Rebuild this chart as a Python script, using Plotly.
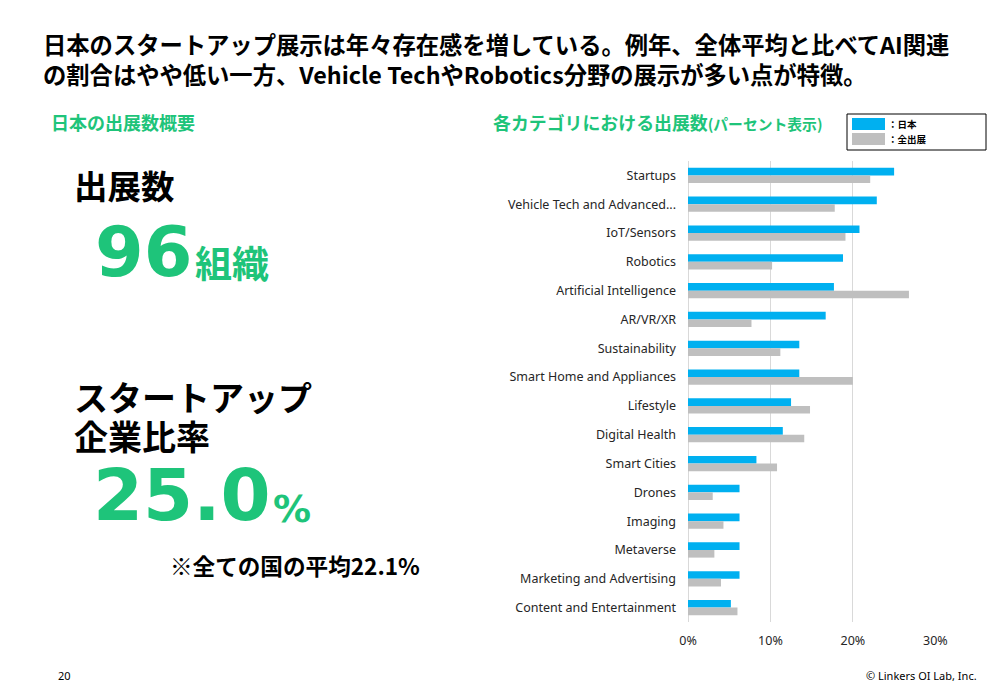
import plotly.graph_objects as go

categories = [
    "Startups", "Vehicle Tech and Advanced...", "IoT/Sensors", "Robotics",
    "Artificial Intelligence", "AR/VR/XR", "Sustainability",
    "Smart Home and Appliances", "Lifestyle", "Digital Health",
    "Smart Cities", "Drones", "Imaging", "Metaverse",
    "Marketing and Advertising", "Content and Entertainment",
]
japan_pct = [25.0, 22.9, 20.8, 18.8, 17.7, 16.7, 13.5, 13.5, 12.5, 11.5,
             8.3, 6.25, 6.25, 6.25, 6.25, 5.2]
all_pct = [22.1, 17.8, 19.1, 10.2, 26.8, 7.7, 11.2, 20.0, 14.8, 14.1,
           10.8, 3.0, 4.3, 3.2, 4.0, 6.0]
x_ticks = [0, 10, 20, 30]
x_tick_labels = ["0%", "10%", "20%", "30%"]
series_names = ["：日本", "：全出展"]

BLUE = "#00B0F0"
GREY = "#BFBFBF"
GREEN = "#1EC47A"
W, H = 1000, 692
CJK = "Noto Sans CJK JP"


def px(x):
    return x / W


def py(y):
    return 1 - y / H


fig = go.Figure()
fig.add_trace(go.Bar(y=categories, x=japan_pct, orientation="h",
                     marker=dict(color=BLUE, line=dict(width=0)),
                     name=series_names[0], showlegend=False))
fig.add_trace(go.Bar(y=categories, x=all_pct, orientation="h",
                     marker=dict(color=GREY, line=dict(width=0)),
                     name=series_names[1], showlegend=False))

fig.update_layout(
    width=W, height=H, autosize=False,
    margin=dict(l=0, r=0, t=0, b=0, pad=0, autoexpand=False),
    paper_bgcolor="white", plot_bgcolor="white",
    barmode="group", bargap=0.47, bargroupgap=0,
    font=dict(family="Noto Sans", color="#262626"),
    xaxis=dict(domain=[px(688), px(935.5)], range=[0, 30.02],
               tickvals=x_ticks, ticktext=x_tick_labels,
               showgrid=True, gridcolor="#D9D9D9", gridwidth=1,
               zeroline=True, zerolinecolor="#D9D9D9", zerolinewidth=1,
               showline=False, ticks="", automargin=False,
               ticklabelstandoff=9,
               tickfont=dict(size=12.5, color="#262626", family="Noto Sans"),
               anchor="y"),
    yaxis=dict(domain=[py(622), py(161)], autorange="reversed",
               showgrid=False, zeroline=False, showline=False, ticks="",
               automargin=False, ticklabelstandoff=11,
               tickfont=dict(size=12.5, color="#262626", family="Noto Sans")),
)

annotations = []


def text(x, y, s, size, color="#000000", family=CJK, xanchor="left", yanchor="middle",
         align="left"):
    annotations.append(dict(x=px(x), y=py(y), xref="paper", yref="paper",
                            text=s, showarrow=False, xanchor=xanchor, yanchor=yanchor,
                            align=align,
                            font=dict(size=size, color=color, family=family)))


text(41, 59, "<b>日本のスタートアップ展示は年々存在感を増している。例年、全体平均と比べてAI関連"
     "<br>の割合はやや低い一方、Vehicle TechやRobotics分野の展示が多い点が特徴。</b>", 23.3)

text(49, 122, "<b>日本の出展数概要</b>", 18, GREEN)
text(491, 122, "<b>各カテゴリにおける出展数<span style='font-size:14.8px'>(パーセント表示)</span></b>", 17.9, GREEN)

text(71.5, 185, "<b>出展数</b>", 33.5)
text(93, 252, "<b>96</b>", 70, GREEN, "DejaVu Sans")
text(193, 262, "<b>組織</b>", 37, GREEN)

text(71.5, 397, "<b>スタートアップ</b>", 34)
text(71.5, 435, "<b>企業比率</b>", 34)
text(91, 495, "<b>25.0</b>", 72, GREEN, "DejaVu Sans")
text(271, 509, "<b>%</b>", 38, GREEN, "DejaVu Sans")
text(168, 565, "<b>※全ての国の平均22.1%</b>", 22.6)

text(56, 675, "20", 11, "#000000", "Noto Sans")
text(979, 675, "© Linkers OI Lab, Inc.", 11, "#000000", "Noto Sans", xanchor="right")

# legend box
text(886, 124, "<b>" + series_names[0] + "</b>", 9.5)
text(886, 139, "<b>" + series_names[1] + "</b>", 9.5)

shapes = [
    dict(type="rect", xref="paper", yref="paper", x0=px(847), x1=px(986),
         y0=py(150), y1=py(114), line=dict(color="#000000", width=1), fillcolor="white",
         layer="below"),
    dict(type="rect", xref="paper", yref="paper", x0=px(852), x1=px(885),
         y0=py(130), y1=py(118), line=dict(width=0), fillcolor=BLUE),
    dict(type="rect", xref="paper", yref="paper", x0=px(852), x1=px(885),
         y0=py(145), y1=py(133), line=dict(width=0), fillcolor=GREY),
]

fig.update_layout(annotations=annotations, shapes=shapes)
fig.write_html(
    "out.html",
    config={"displayModeBar": False, "responsive": False},
    post_script=("document.body.style.margin='0';"
                 "document.body.style.overflow='hidden';"
                 "document.documentElement.style.overflow='hidden';"),
)
